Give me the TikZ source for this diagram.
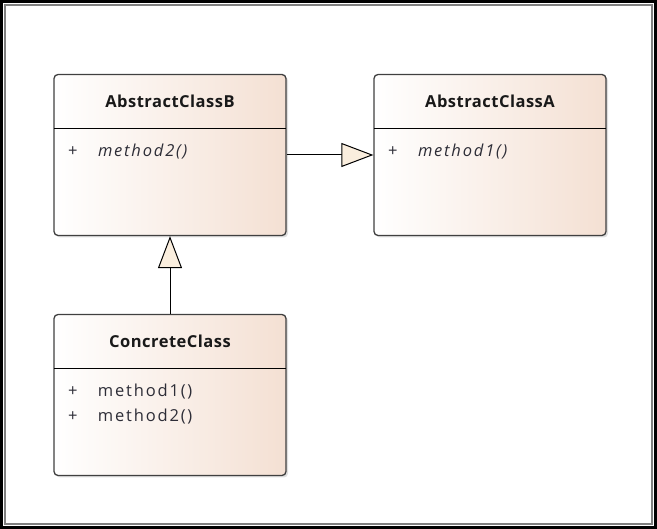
\documentclass[tikz,border=0pt]{standalone}
\usepackage{fontspec}
\setmainfont{Open Sans}
\usetikzlibrary{arrows.meta, positioning, shadows}
\definecolor{peach}{RGB}{244,224,211}
\definecolor{tipfill}{RGB}{250,238,222}
\definecolor{framegray}{RGB}{128,128,128}
\definecolor{opgray}{RGB}{45,45,55}

\begin{document}
\begin{tikzpicture}[x=1pt, y=-1pt,
    classbox/.style={draw=black!75, line width=1.3pt, rounded corners=4pt, left color=white, right color=peach,
      minimum width=232pt, minimum height=161pt, drop shadow={opacity=0.25, shadow xshift=2pt, shadow yshift=-2pt}},
    classhead/.style={minimum width=232pt, minimum height=54pt, inner sep=0pt,
      font=\bfseries\fontsize{16.5}{18}\selectfont\addfontfeatures{LetterSpace=3}, text=black!90},
    ops/.style={align=left, inner sep=0pt, font=\fontsize{16.5}{25}\selectfont\addfontfeatures{LetterSpace=11}, text=opgray},
    inherit/.style={line width=1pt, -{Triangle[length=32pt, width=24pt, fill=tipfill]}}]
    \useasboundingbox (0,0) rectangle (657,529);
    % frame
    \draw[line width=3pt] (1.5,1.5) rectangle (655.5,527.5);
    \draw[framegray, line width=1.2pt] (5,5) rectangle (652,524);

    % classes
    \node[classbox] (clsB) at (170,155) {};
    \node[classhead, below=0pt of clsB.north] (clsBhead) {AbstractClassB};
    \draw[line width=1pt] (clsBhead.south west) -- (clsBhead.south east);
    \node[ops, below right=16pt and 14pt of clsBhead.south west] (clsBops) {\makebox[30pt][l]{+}\textit{method2()}};

    \node[classbox] (clsA) at (490,155) {};
    \node[classhead, below=0pt of clsA.north] (clsAhead) {AbstractClassA};
    \draw[line width=1pt] (clsAhead.south west) -- (clsAhead.south east);
    \node[ops, below right=16pt and 14pt of clsAhead.south west] (clsAops) {\makebox[30pt][l]{+}\textit{method1()}};

    \node[classbox] (conc) at (170,395) {};
    \node[classhead, below=0pt of conc.north] (conchead) {ConcreteClass};
    \draw[line width=1pt] (conchead.south west) -- (conchead.south east);
    \node[ops, below right=16pt and 14pt of conchead.south west] (concops) {\makebox[30pt][l]{+}method1()\\\makebox[30pt][l]{+}method2()};

    % generalisations
    \draw[inherit] (clsB) -- (clsA);
    \draw[inherit] (conc) -- (clsB);
\end{tikzpicture}
\end{document}
